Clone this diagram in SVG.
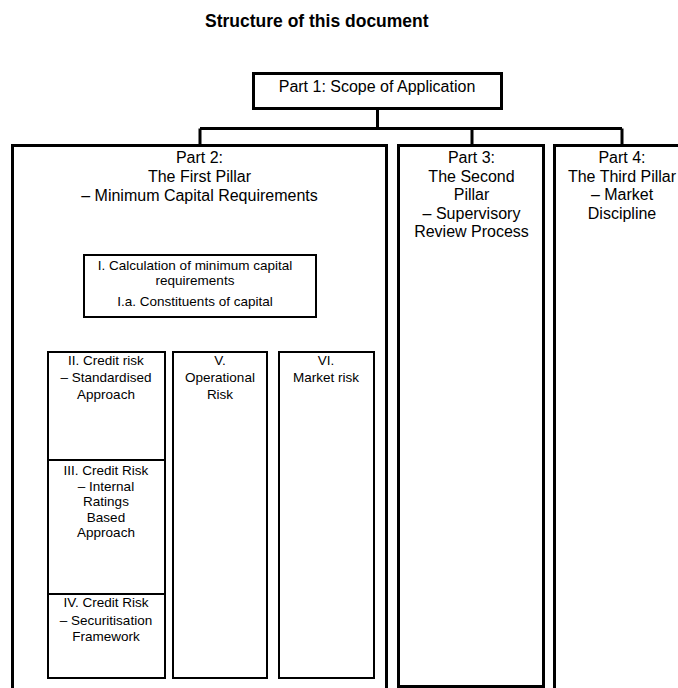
<svg xmlns="http://www.w3.org/2000/svg" width="678" height="688" viewBox="0 0 678 688">
<style>
text{font-family:"Liberation Sans",Arial,sans-serif;fill:#000;text-anchor:middle}
.t{font-size:17.5px;font-weight:bold;text-anchor:start}
.p{font-size:16px}
.s{font-size:13.5px}
.big{fill:#fff;stroke:#000;stroke-width:3}
.sm{fill:#fff;stroke:#000;stroke-width:2}
.c1{fill:none;stroke:#000;stroke-width:3}
.c2{fill:none;stroke:#000;stroke-width:2}
</style>
<rect width="678" height="688" fill="#fff"/>
<text class="t" x="205" y="27">Structure of this document</text>
<g id="connectors">
<path class="c1" d="M377.5 108.5V128.5M200 128.5H622M200 128.5V145.5M472 128.5V145.5M622 128.5V145.5"/>
<path class="c2" d="M194 317V336M106 336H326M106 336V352M220 336V352M326 336V352"/>
</g>
<g id="part1">
<rect class="big" x="253.5" y="73.5" width="248" height="35"/>
<text class="p" x="377" y="92">Part 1: Scope of Application</text>
</g>
<g id="part2">
<rect class="big" x="12.5" y="145.5" width="374" height="560"/>
<text class="p" x="199.5" y="163">Part 2:</text>
<text class="p" x="199.5" y="182">The First Pillar</text>
<text class="p" x="199.5" y="201">– Minimum Capital Requirements</text>
</g>
<g id="part3">
<rect class="big" x="398.5" y="145.5" width="145" height="541"/>
<text class="p" x="471.5" y="163">Part 3:</text>
<text class="p" x="471.5" y="181.5">The Second</text>
<text class="p" x="471.5" y="200">Pillar</text>
<text class="p" x="471.5" y="218.5">– Supervisory</text>
<text class="p" x="471.5" y="237">Review Process</text>
</g>
<g id="part4">
<rect class="big" x="554.5" y="145.5" width="140" height="560"/>
<text class="p" x="622" y="163">Part 4:</text>
<text class="p" x="622" y="181.5">The Third Pillar</text>
<text class="p" x="622" y="200">– Market</text>
<text class="p" x="622" y="218.5">Discipline</text>
</g>
<g id="calc">
<rect class="sm" x="84" y="255" width="232" height="62"/>
<text class="s" x="195" y="270">I. Calculation of minimum capital</text>
<text class="s" x="195" y="285">requirements</text>
<text class="s" x="195" y="306">I.a. Constituents of capital</text>
</g>
<g id="credit2">
<rect class="sm" x="48" y="352" width="117" height="108"/>
<text class="s" x="106" y="364.5">II. Credit risk</text>
<text class="s" x="106" y="381.5">– Standardised</text>
<text class="s" x="106" y="398.5">Approach</text>
</g>
<g id="credit3">
<rect class="sm" x="48" y="460" width="117" height="134"/>
<text class="s" x="106" y="475">III. Credit Risk</text>
<text class="s" x="106" y="490.5">– Internal</text>
<text class="s" x="106" y="506">Ratings</text>
<text class="s" x="106" y="521.5">Based</text>
<text class="s" x="106" y="537">Approach</text>
</g>
<g id="credit4">
<rect class="sm" x="48" y="594" width="117" height="84"/>
<text class="s" x="106" y="607">IV. Credit Risk</text>
<text class="s" x="106" y="625">– Securitisation</text>
<text class="s" x="106" y="640.5">Framework</text>
</g>
<g id="operational">
<rect class="sm" x="173" y="352" width="94" height="326"/>
<text class="s" x="220" y="364.5">V.</text>
<text class="s" x="220" y="381.5">Operational</text>
<text class="s" x="220" y="398.5">Risk</text>
</g>
<g id="market">
<rect class="sm" x="279" y="352" width="95" height="326"/>
<text class="s" x="326" y="364.5">VI.</text>
<text class="s" x="326" y="381.5">Market risk</text>
</g>
</svg>
